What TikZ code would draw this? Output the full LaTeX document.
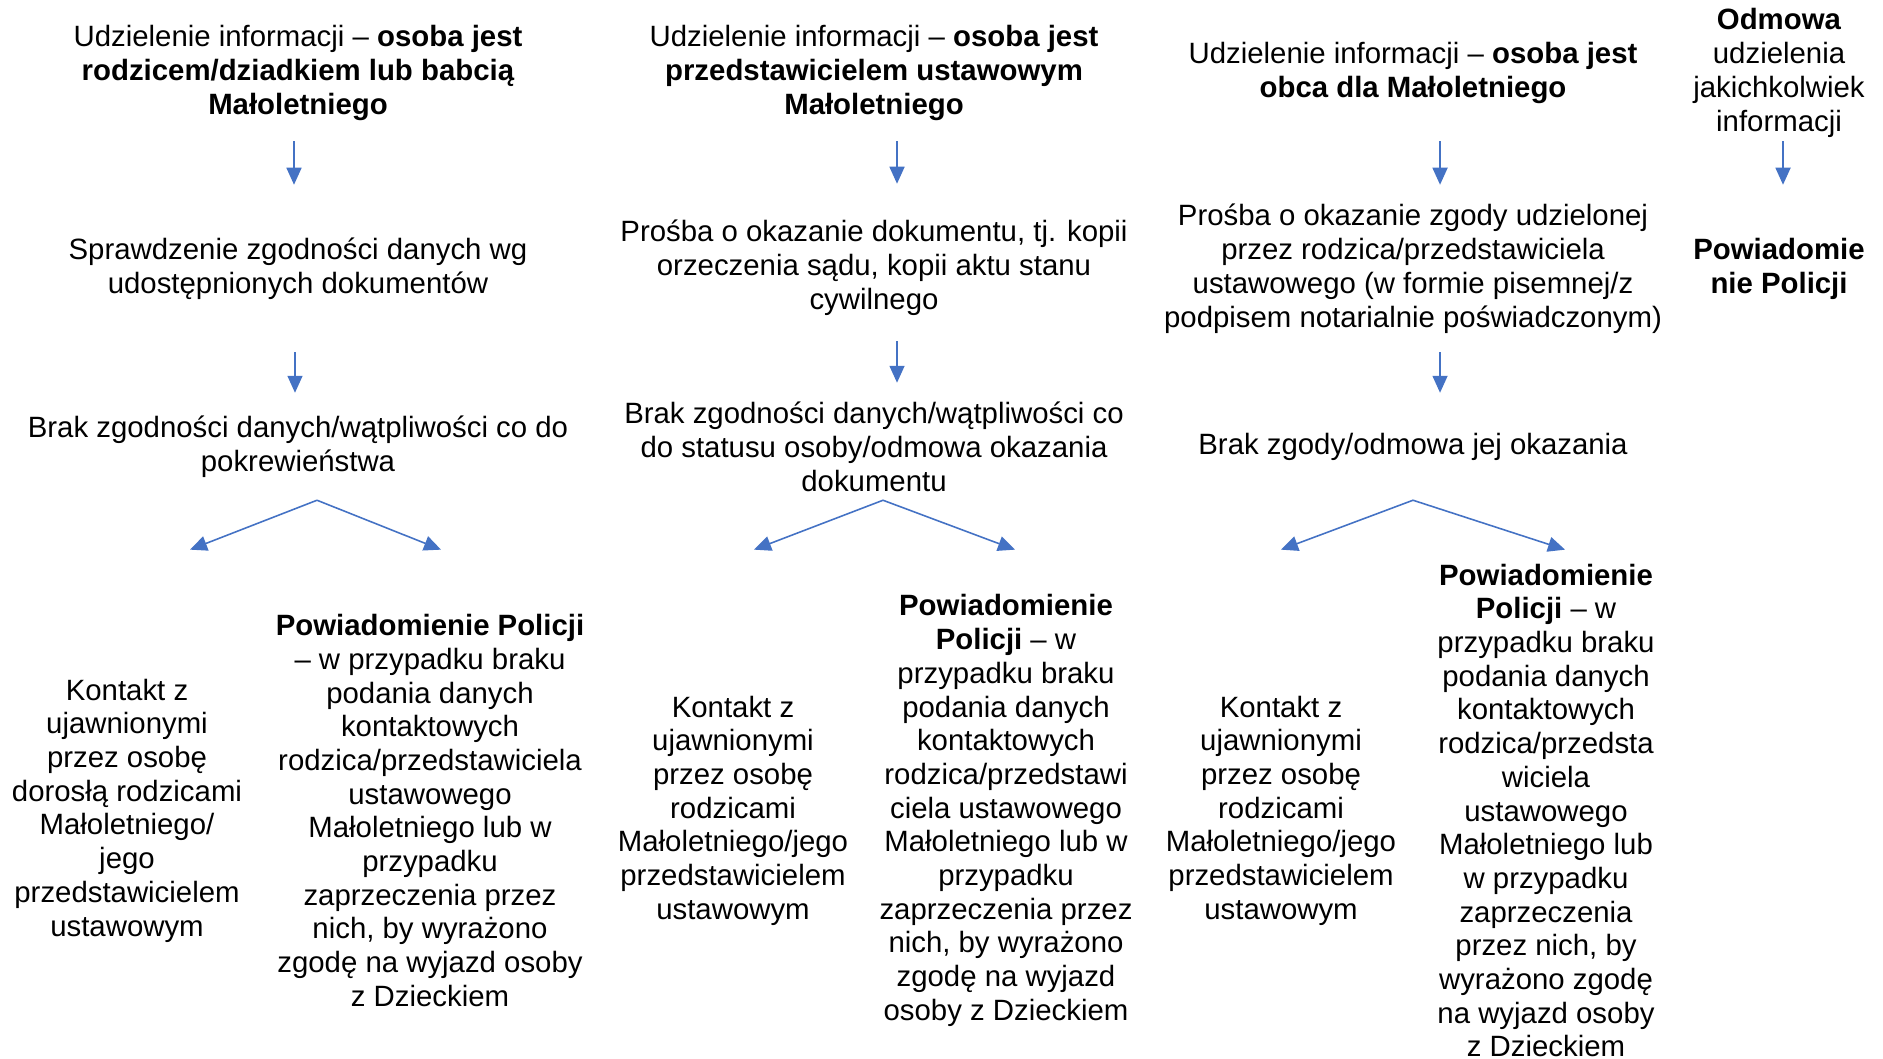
\documentclass[tikz,border=0pt]{standalone}
\usepackage{fontspec}
\setmainfont{Liberation Sans}
\usepackage{tikz}
\usetikzlibrary{arrows.meta}
\definecolor{arrowBlue}{HTML}{4472C4}

\begin{document}
\begin{tikzpicture}[x=0.01cm, y=-0.01cm,
		textStyle/.style={align=center, inner sep=0pt, yshift=-0.025cm, font=\fontsize{8.35pt}{9.67pt}\selectfont},
		headStyle/.style={textStyle, minimum height=1.36cm},
		stepStyle/.style={textStyle, minimum height=1.66cm},
		doubtStyle/.style={textStyle, minimum height=1.06cm},
		leafStyle/.style={textStyle, yshift=0.01cm, minimum height=5.2cm, font=\fontsize{8.35pt}{9.58pt}\selectfont},
		arrowStyle/.style={draw=arrowBlue, line width=0.45pt, -{Triangle[length=1.7mm, width=1.5mm]}}]
			\clip (0, 0) rectangle (1883, 1058);

			% Column 1
			\node[headStyle] (head1) at (298, 70) {Udzielenie informacji – \textbf{osoba jest}\\ \textbf{rodzicem/dziadkiem lub babcią}\\ \textbf{Małoletniego}};
			\node[stepStyle] (step1) at (298, 266) {Sprawdzenie zgodności danych wg\\ udostępnionych dokumentów};
			\node[doubtStyle] (doubt1) at (298, 444) {Brak zgodności danych/wątpliwości co do\\ pokrewieństwa};
			\node[leafStyle] (contact1) at (127, 809) {Kontakt z\\ ujawnionymi\\ przez osobę\\ dorosłą rodzicami\\ Małoletniego/\\ jego\\ przedstawicielem\\ ustawowym};
			\node[leafStyle] (police1) at (430, 809) {\textbf{Powiadomienie Policji}\\ – w przypadku braku\\ podania danych\\ kontaktowych\\ rodzica/przedstawiciela\\ ustawowego\\ Małoletniego lub w\\ przypadku\\ zaprzeczenia przez\\ nich, by wyrażono\\ zgodę na wyjazd osoby\\ z Dzieckiem};

			% Column 2
			\node[headStyle] (head2) at (874, 70) {Udzielenie informacji – \textbf{osoba jest}\\ \textbf{przedstawicielem ustawowym}\\ \textbf{Małoletniego}};
			\node[stepStyle] (step2) at (874, 265) {Prośba o okazanie dokumentu, tj. kopii\\ orzeczenia sądu, kopii aktu stanu\\ cywilnego};
			\node[doubtStyle] (doubt2) at (874, 444) {Brak zgodności danych/wątpliwości co\\ do statusu osoby/odmowa okazania\\ dokumentu};
			\node[leafStyle] (contact2) at (733, 809) {Kontakt z\\ ujawnionymi\\ przez osobę\\ rodzicami\\ Małoletniego/jego\\ przedstawicielem\\ ustawowym};
			\node[leafStyle] (police2) at (1006, 809) {\textbf{Powiadomienie}\\ \textbf{Policji} – w\\ przypadku braku\\ podania danych\\ kontaktowych\\ rodzica/przedstawi\\ ciela ustawowego\\ Małoletniego lub w\\ przypadku\\ zaprzeczenia przez\\ nich, by wyrażono\\ zgodę na wyjazd\\ osoby z Dzieckiem};

			% Column 3
			\node[headStyle] (head3) at (1413, 70) {Udzielenie informacji – \textbf{osoba jest}\\ \textbf{obca dla Małoletniego}};
			\node[stepStyle] (step3) at (1413, 266) {Prośba o okazanie zgody udzielonej\\ przez rodzica/przedstawiciela\\ ustawowego (w formie pisemnej/z\\ podpisem notarialnie poświadczonym)};
			\node[doubtStyle] (doubt3) at (1413, 444) {Brak zgody/odmowa jej okazania};
			\node[leafStyle] (contact3) at (1281, 809) {Kontakt z\\ ujawnionymi\\ przez osobę\\ rodzicami\\ Małoletniego/jego\\ przedstawicielem\\ ustawowym};
			\node[leafStyle] (police3) at (1546, 809) {\textbf{Powiadomienie}\\ \textbf{Policji} – w\\ przypadku braku\\ podania danych\\ kontaktowych\\ rodzica/przedsta\\ wiciela\\ ustawowego\\ Małoletniego lub\\ w przypadku\\ zaprzeczenia\\ przez nich, by\\ wyrażono zgodę\\ na wyjazd osoby\\ z Dzieckiem};

			% Column 4
			\node[headStyle] (head4) at (1779, 70) {\textbf{Odmowa}\\ udzielenia\\ jakichkolwiek\\ informacji};
			\node[stepStyle] (police4) at (1779, 266) {\textbf{Powiadomie}\\ \textbf{nie Policji}};

			% Forks
			\coordinate (fork1) at ([xshift=0.19cm]doubt1.south);
			\coordinate (fork2) at ([xshift=0.09cm]doubt2.south);
			\coordinate (fork3) at (doubt3.south);

			\draw[arrowStyle] ([xshift=-0.04cm]head1.south) -- ([xshift=-0.04cm]step1.north);
			\draw[arrowStyle] ([xshift=-0.03cm]step1.south) -- ([xshift=-0.03cm]doubt1.north);
			\draw[arrowStyle] (fork1) -- ([xshift=0.63cm]contact1.north);
			\draw[arrowStyle] (fork1) -- ([xshift=0.11cm]police1.north);

			\draw[arrowStyle] ([xshift=0.23cm]head2.south) -- ([xshift=0.23cm]step2.north);
			\draw[arrowStyle] ([xshift=0.23cm, yshift=0.1cm]step2.south) -- ([xshift=0.23cm, yshift=0.1cm]doubt2.north);
			\draw[arrowStyle] (fork2) -- ([xshift=0.21cm]contact2.north);
			\draw[arrowStyle] (fork2) -- ([xshift=0.09cm]police2.north);

			\draw[arrowStyle] ([xshift=0.27cm]head3.south) -- ([xshift=0.27cm]step3.north);
			\draw[arrowStyle] ([xshift=0.27cm]step3.south) -- ([xshift=0.27cm]doubt3.north);
			\draw[arrowStyle] (fork3) -- (contact3.north);
			\draw[arrowStyle] (fork3) -- ([xshift=0.19cm]police3.north);

			\draw[arrowStyle] ([xshift=0.04cm]head4.south) -- ([xshift=0.04cm]police4.north);

		\end{tikzpicture}
\end{document}
